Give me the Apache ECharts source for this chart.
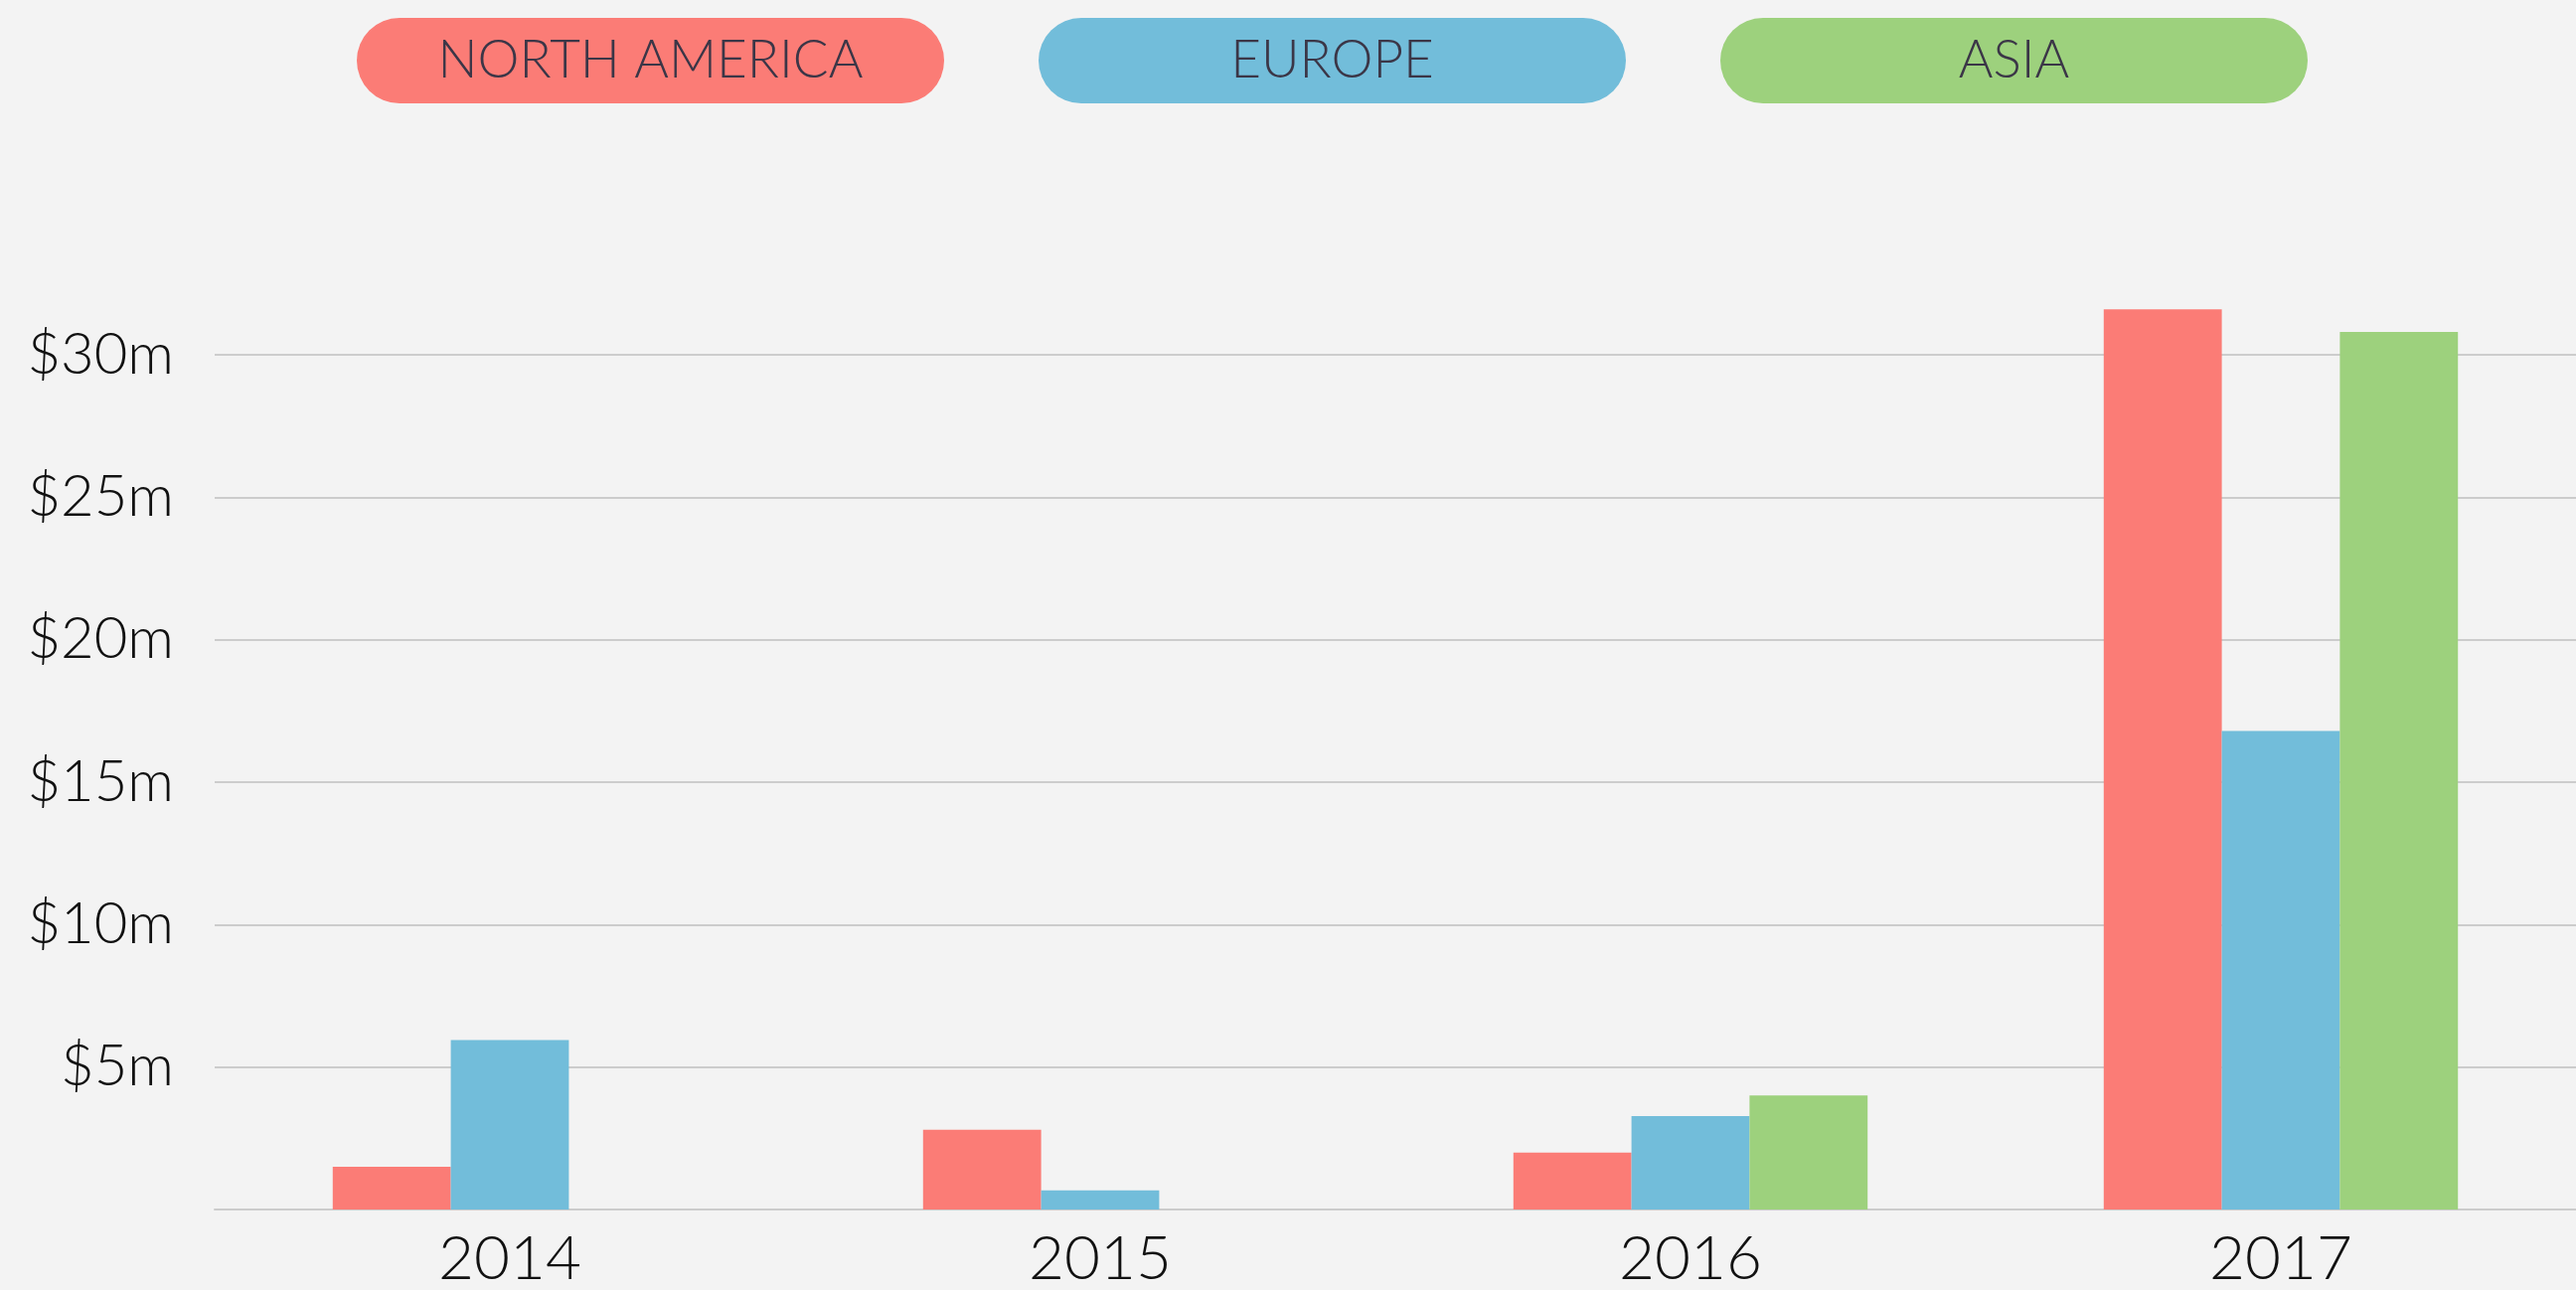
<!DOCTYPE html>
<html>
<head>
<meta charset="utf-8">
<title>Revenue by region</title>
<script src="https://cdn.jsdelivr.net/npm/echarts@6/dist/echarts.min.js"></script>
<style>
  html, body {
    margin: 0;
    padding: 0;
    background: #f3f3f3;
  }
  #chart {
    width: 2592px;
    height: 1298px;
  }
</style>
</head>
<body>
<div id="chart"></div>
<script>
const years = ['2014', '2015', '2016', '2017']
const regions = ['NORTH AMERICA', 'EUROPE', 'ASIA']

// values in $ millions
const northAmerica = [1.5, 2.8, 2.0, 31.6]
const europe = [5.95, 0.67, 3.28, 16.8]
const asia = [null, null, 4.0, 30.8]

const yTicks = [0, 5, 10, 15, 20, 25, 30]

const colors = ['#fb7c76', '#72bdda', '#9dd17d']
const richKeys = ['na', 'eu', 'as']

const pill = (color) => ({
  width: 591,
  height: 86,
  lineHeight: 86,
  align: 'center',
  verticalAlign: 'middle',
  backgroundColor: color,
  borderRadius: 43,
  color: '#3b3647',
  fontFamily: 'Lato',
  fontWeight: 300,
  fontSize: 53
})

const chart = echarts.init(document.getElementById('chart'))

const option = {
  backgroundColor: '#f3f3f3',
  animation: false,
  color: colors,
  legend: {
    left: 349,
    top: 13,
    icon: 'none',
    itemWidth: 0,
    itemGap: 90,
    selectedMode: false,
    data: regions,
    formatter: (name) => `{${richKeys[regions.indexOf(name)]}|${name}}`,
    textStyle: {
      rich: {
        na: pill(colors[0]),
        eu: pill(colors[1]),
        as: pill(colors[2])
      }
    }
  },
  grid: {
    left: 216,
    right: 0,
    top: 357,
    bottom: 77,
    containLabel: false
  },
  xAxis: {
    type: 'category',
    data: years,
    axisLine: {
      lineStyle: { color: '#cccccc', width: 2 }
    },
    axisTick: { show: false },
    axisLabel: {
      margin: 19,
      color: '#111111',
      fontFamily: 'Lato',
      fontWeight: 300,
      fontSize: 62
    }
  },
  yAxis: {
    type: 'value',
    min: yTicks[0],
    max: yTicks[yTicks.length - 1],
    interval: yTicks[1] - yTicks[0],
    axisLine: { show: false },
    axisTick: { show: false },
    axisLabel: {
      margin: 41,
      showMinLabel: false,
      color: '#111111',
      fontFamily: 'Lato',
      fontWeight: 300,
      fontSize: 58,
      formatter: (v) => '$' + v + 'm'
    },
    splitLine: {
      lineStyle: { color: '#cccccc', width: 2 }
    }
  },
  series: [
    { name: regions[0], type: 'bar', data: northAmerica },
    { name: regions[1], type: 'bar', data: europe },
    { name: regions[2], type: 'bar', data: asia }
  ].map((s) => ({
    ...s,
    barGap: 0,
    barCategoryGap: '40%',
    clip: false
  }))
}

chart.setOption(option)
</script>
</body>
</html>
